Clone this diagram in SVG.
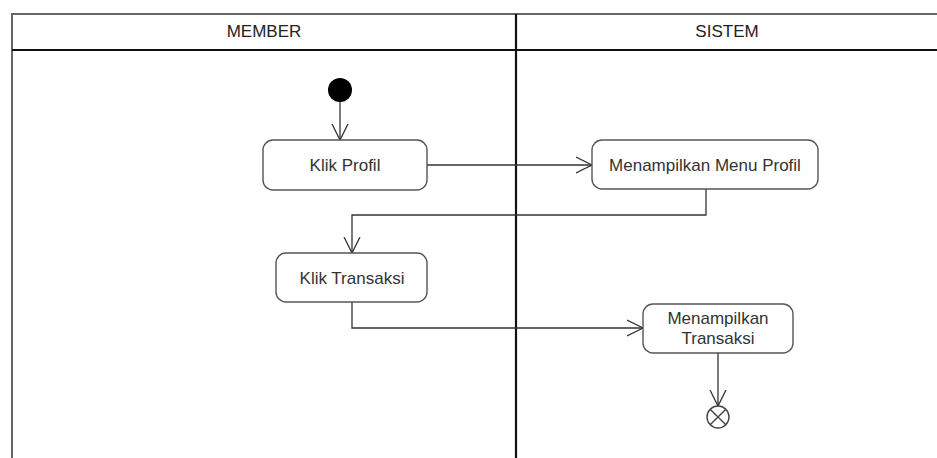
<svg xmlns="http://www.w3.org/2000/svg" width="937" height="458" viewBox="0 0 937 458">
  <defs>
    <marker id="open-arrow" viewBox="0 0 18 18" refX="16" refY="9" markerWidth="18" markerHeight="18" markerUnits="userSpaceOnUse" orient="auto">
      <path d="M0,1 L16,9 L0,17" fill="none" stroke="#333" stroke-width="1.3"/>
    </marker>
    <style>
      .frame { fill: none; stroke: #666; stroke-width: 2; }
      .divider { stroke: #111; stroke-width: 2.2; }
      .action { fill: #fff; stroke: #555; stroke-width: 1.4; }
      .label { font-family: "Liberation Sans", Arial, sans-serif; font-size: 17px; fill: #333; text-anchor: middle; }
      .head { font-family: "Liberation Sans", Arial, sans-serif; font-size: 17px; fill: #222; text-anchor: middle; }
      .flow { fill: none; stroke: #333; stroke-width: 1.3; marker-end: url(#open-arrow); }
    </style>
  </defs>
  <rect width="937" height="458" fill="#fff"/>

  <!-- swimlane frame -->
  <g id="swimlanes">
    <path class="frame" d="M12,458 L12,14 L940,14"/>
    <line class="divider" x1="12" y1="50" x2="940" y2="50"/>
    <line class="divider" x1="516" y1="14" x2="516" y2="458"/>
    <text class="head" x="264" y="37">MEMBER</text>
    <text class="head" x="727" y="37">SISTEM</text>
  </g>

  <!-- connectors -->
  <g id="connectors">
    <line class="flow" x1="340" y1="101" x2="340" y2="140"/>
    <line class="flow" x1="427" y1="165" x2="592" y2="165"/>
    <path class="flow" d="M706,189 L706,215 L352,215 L352,253"/>
    <path class="flow" d="M352,302 L352,328 L643,328"/>
    <line class="flow" x1="718" y1="353" x2="718" y2="406"/>
  </g>

  <g id="start">
    <circle cx="340" cy="90" r="12" fill="#000"/>
  </g>

  <g id="klik-profil">
    <rect class="action" x="263" y="140" width="164" height="50" rx="10"/>
    <text class="label" x="345" y="171">Klik Profil</text>
  </g>

  <g id="menampilkan-menu-profil">
    <rect class="action" x="592" y="140" width="226" height="49" rx="10"/>
    <text class="label" x="705" y="171">Menampilkan Menu Profil</text>
  </g>

  <g id="klik-transaksi">
    <rect class="action" x="276" y="253" width="151" height="49" rx="10"/>
    <text class="label" x="352" y="284">Klik Transaksi</text>
  </g>

  <g id="menampilkan-transaksi">
    <rect class="action" x="643" y="304" width="150" height="49" rx="10"/>
    <text class="label" x="718" y="324">Menampilkan</text>
    <text class="label" x="718" y="344">Transaksi</text>
  </g>

  <g id="end">
    <circle cx="718" cy="417" r="11" fill="#fff" stroke="#444" stroke-width="1.4"/>
    <path d="M710.2,409.2 L725.8,424.8 M725.8,409.2 L710.2,424.8" stroke="#444" stroke-width="1.4"/>
  </g>
</svg>
